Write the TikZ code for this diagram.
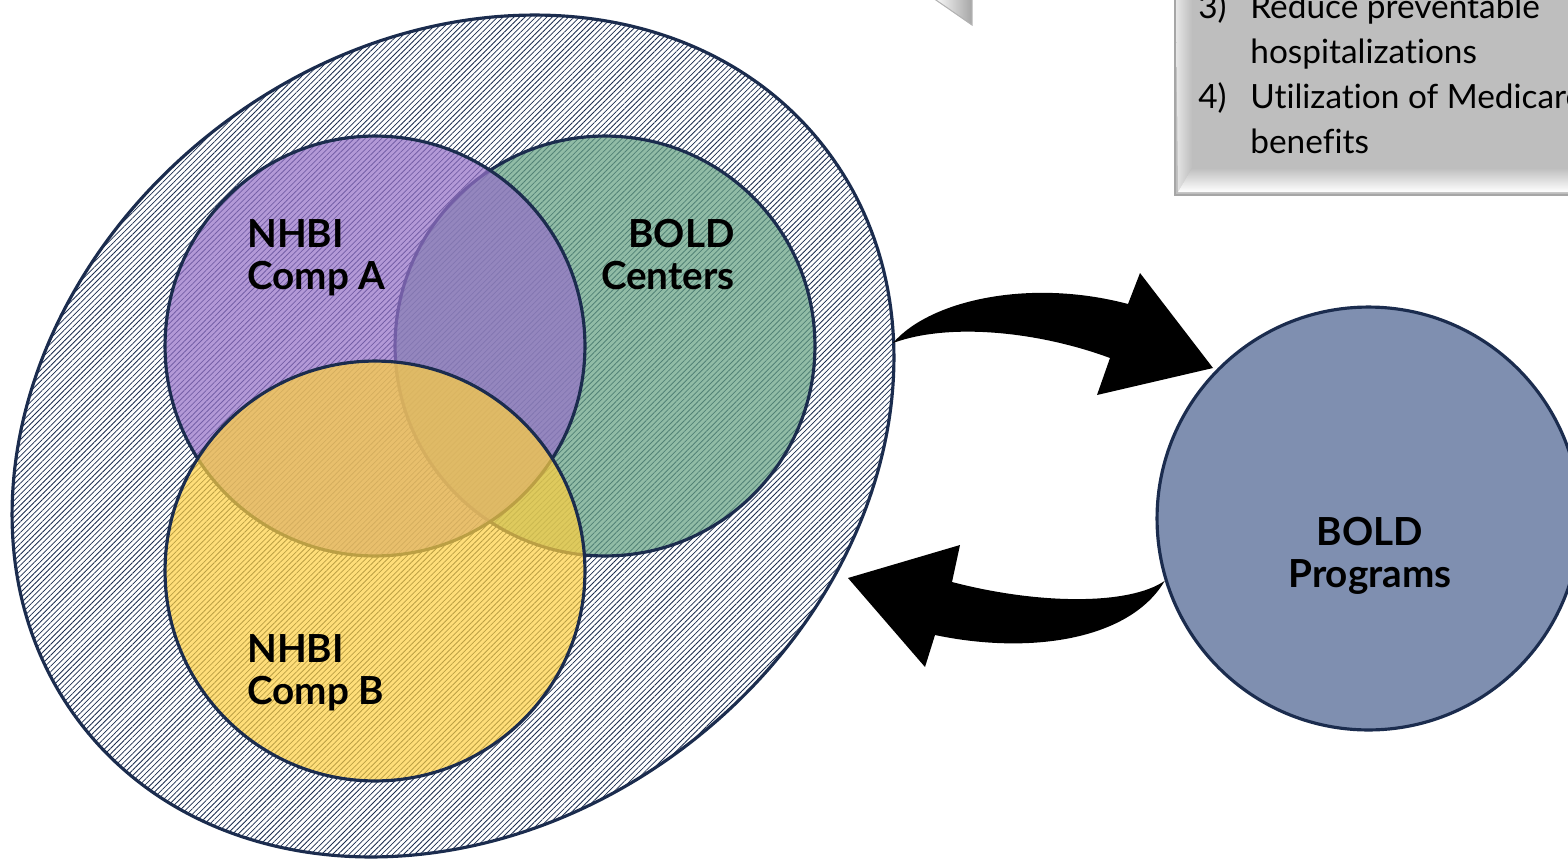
\documentclass[tikz,border=0pt]{standalone}
\usepackage{fontspec}
\setmainfont{Lato}[Ligatures={NoCommon}]
\usetikzlibrary{shapes.geometric,patterns.meta}
\definecolor{navy}{HTML}{1B2C4E}
\definecolor{vennpurple}{HTML}{9672C8}
\definecolor{venngreen}{HTML}{66A284}
\definecolor{vennyellow}{HTML}{FFD040}
\definecolor{progblue}{HTML}{7F8FB0}
\definecolor{boxgray}{HTML}{BEBEBE}
\tikzset{
hatched/.style = {draw=navy, line width=1.8pt, ellipse, inner sep=0, pattern={Lines[angle=45,distance=2.2pt,line width=0.45pt]}, pattern color=navy},
venn/.style = {draw=navy, line width=1.8pt, circle, minimum size=8.4cm, inner sep=0, fill opacity=0.72},
vennlabel/.style = {font=\fontsize{22}{24}\selectfont\bfseries, inner sep=0},
bigarrow/.style = {fill=black},
boxtext/.style = {font=\fontsize{19}{25.6}\selectfont, inner sep=0}
}
\begin{document}
\begin{tikzpicture}[x=0.02cm, y=-0.02cm]
\useasboundingbox (0,0) rectangle (1568,859);

% outer ring and venn circles
\node[hatched, minimum width=18.82cm, minimum height=15.51cm, rotate=38] (outer) at (453,436) {};
\node[venn, fill=venngreen] (centers) at (605,346) {};
\node[venn, fill=vennpurple] (compA) at (375,346) {};
\node[venn, fill=vennyellow, fill opacity=0.7] (compB) at (375,571) {};

\node[vennlabel, anchor=north west, align=left] (labA) at (247,219) {NHBI\\Comp A};
\node[vennlabel, anchor=north east, align=right] (labC) at (735,219) {BOLD\\Centers};
\node[vennlabel, anchor=north west, align=left] (labB) at (247,634) {NHBI\\Comp B};

\node[draw=navy, line width=1.8pt, circle, fill=progblue, minimum size=8.46cm, inner sep=0] (prog) at (1368.5,518.5) {};
\node[vennlabel, align=center] (labP) at (1370,556) {BOLD\\Programs};

% curved arrows
\coordinate (tailR) at (893,343);
\coordinate (tailL) at (prog.197);
\fill[bigarrow] (tailR) .. controls (930,300) and (1030,278) .. (1128,304)
  -- (1140,273) -- (1213,368) -- (1097,395) -- (1110,358)
  .. controls (1040,332) and (950,322) .. (tailR) -- cycle;
\fill[bigarrow] (tailL) .. controls (1130,605) and (1040,605) .. (952,582)
  -- (960,545) -- (848,578) -- (925,667) -- (935,635)
  .. controls (1030,655) and (1130,640) .. (tailL) -- cycle;

% gray box, top right
\fill[boxgray] (1175,-5) rectangle (1575,195);
\shade[left color=gray!20, right color=boxgray] (1176,-5) -- (1192,-5) -- (1192,168) -- (1178,192) -- cycle;
\shade[top color=boxgray, bottom color=white] (1192,168) -- (1575,168) -- (1575,192) -- (1178,192) -- cycle;
\draw[gray!70, line width=0.8pt] (1175,-5) rectangle (1575,195);
\node[boxtext, anchor=north west] (goals) at (1198,-13.5) {%
\begin{tabular}{@{}p{29.6pt}@{}l@{}}
3) & Reduce preventable\\
   & hospitalizations\\
4) & Utilization of Medicare\\
   & benefits
\end{tabular}};

% tip of the callout, top centre
\shade[left color=white, right color=gray!70] (933,-2) -- (972,-2) -- (972,25) -- cycle;
\draw[gray!60, line width=0.6pt] (933,-2) -- (972,25) -- (972,-2);
\end{tikzpicture}
\end{document}
